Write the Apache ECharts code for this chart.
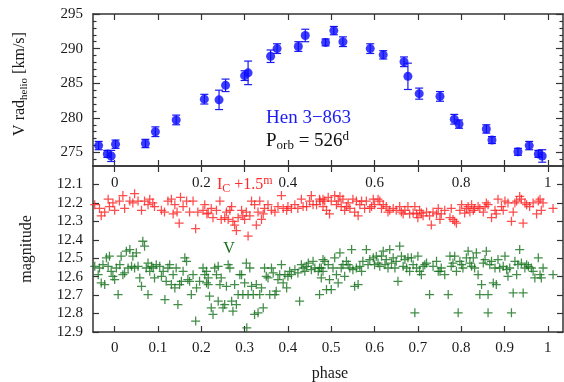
<!DOCTYPE html>
<html><head><meta charset="utf-8">
<script src="https://cdn.jsdelivr.net/npm/echarts@6/dist/echarts.min.js"></script>
<style>html,body{margin:0;padding:0;background:#fff}#c{width:564px;height:382px}</style>
</head><body><div id="c"></div>
<script>
// ---- Radial velocity panel ----
const rvPhase = [-0.037,-0.017,-0.008,0.002,0.071,0.094,0.142,0.207,0.241,0.256,0.300,0.308,0.360,0.375,0.424,0.440,0.487,0.506,0.527,0.590,0.620,0.668,0.677,0.703,0.751,0.784,0.795,0.858,0.871,0.931,0.957,0.978,0.987];
const rvValue = [276.0,274.8,274.5,276.2,276.3,278.0,279.7,282.7,282.6,284.7,286.1,286.5,288.9,290.0,290.3,291.9,290.9,292.6,291.0,290.0,289.1,288.1,286.0,283.5,283.1,279.8,279.1,278.4,276.8,275.1,276.0,274.8,274.5];
const rvError = [0.6,0.5,0.8,0.6,0.6,0.7,0.7,0.7,1.4,0.9,0.7,1.7,0.9,0.7,0.7,0.9,0.5,0.6,0.7,0.7,0.6,0.7,1.9,0.8,0.7,0.7,0.6,0.6,0.5,0.5,0.6,0.5,0.9];

// ---- Photometry panel: [phase, magnitude] ----
const icData = [
[-0.046,12.21],[-0.035,12.23],[-0.031,12.27],[-0.023,12.25],[-0.015,12.18],[-0.012,12.22],[-0.004,12.20],[0.000,12.24],[0.011,12.19],[0.019,12.16],[0.023,12.23],[0.035,12.19],[0.042,12.20],[0.046,12.15],[0.054,12.19],[0.062,12.24],[0.069,12.19],[0.077,12.21],[0.081,12.18],[0.088,12.20],[0.092,12.22],[0.108,12.24],[0.115,12.25],[0.123,12.19],[0.131,12.18],[0.135,12.26],[0.139,12.21],[0.144,12.25],[0.149,12.31],[0.152,12.17],[0.158,12.22],[0.166,12.19],[0.173,12.25],[0.181,12.19],[0.187,12.34],[0.192,12.25],[0.204,12.24],[0.213,12.26],
[0.208,12.21],[0.216,12.255],[0.223,12.23],[0.227,12.28],[0.235,12.24],[0.243,12.19],[0.246,12.29],[0.254,12.28],[0.258,12.25],[0.262,12.29],[0.266,12.24],[0.270,12.22],[0.273,12.30],[0.277,12.32],[0.281,12.35],[0.285,12.28],[0.293,12.24],[0.296,12.27],[0.300,12.29],[0.304,12.25],[0.308,12.38],[0.312,12.27],[0.316,12.19],[0.323,12.21],[0.327,12.32],[0.331,12.25],[0.335,12.19],[0.339,12.29],[0.343,12.26],[0.346,12.23],[0.354,12.21],[0.362,12.24],[0.370,12.25],[0.377,12.22],[0.385,12.16],[0.389,12.23],[0.397,12.24],[0.400,12.22],[0.408,12.23],[0.416,12.21],[0.423,12.23],[0.431,12.18],[0.435,12.22],[0.443,12.22],[0.450,12.19],[0.454,12.16],[0.458,12.21],[0.466,12.21],[0.474,12.19],[0.481,12.18],
[0.473,12.18],[0.481,12.22],[0.485,12.19],[0.489,12.24],[0.493,12.17],[0.496,12.26],[0.500,12.19],[0.508,12.16],[0.512,12.21],[0.516,12.19],[0.520,12.165],[0.523,12.22],[0.527,12.18],[0.531,12.24],[0.535,12.22],[0.539,12.20],[0.543,12.23],[0.550,12.18],[0.554,12.25],[0.558,12.19],[0.562,12.27],[0.566,12.21],[0.570,12.19],[0.577,12.23],[0.581,12.19],[0.589,12.23],[0.593,12.22],[0.597,12.18],[0.600,12.21],[0.608,12.18],[0.612,12.19],[0.616,12.23],[0.620,12.21],[0.627,12.22],[0.631,12.25],[0.635,12.24],[0.643,12.23],[0.650,12.24],[0.658,12.22],[0.662,12.25],[0.666,12.26],[0.670,12.24],[0.677,12.22],[0.681,12.26],[0.689,12.255],[0.693,12.22],[0.697,12.26],[0.700,12.28],[0.704,12.24],[0.708,12.255],[0.712,12.27],[0.720,12.25],[0.727,12.27],[0.731,12.32],[0.735,12.25],[0.743,12.26],[0.747,12.23],
[0.751,12.29],[0.754,12.26],[0.762,12.24],[0.774,12.28],[0.777,12.23],[0.781,12.29],[0.785,12.30],[0.789,12.31],[0.797,12.24],[0.801,12.21],[0.808,12.255],[0.812,12.23],[0.816,12.22],[0.820,12.25],[0.824,12.21],[0.828,12.24],[0.831,12.23],[0.839,12.22],[0.843,12.23],[0.851,12.25],[0.855,12.22],[0.858,12.20],[0.862,12.21],[0.870,12.28],[0.878,12.24],[0.881,12.26],[0.885,12.18],[0.893,12.22],[0.897,12.24],[0.901,12.19],[0.908,12.20],[0.916,12.30],[0.920,12.25],[0.924,12.20],[0.928,12.19],[0.935,12.165],[0.939,12.18],[0.943,12.31],[0.947,12.20],[0.951,12.21],[0.958,12.22],[0.966,12.20],[0.974,12.26],[0.978,12.19],[0.982,12.18],[0.985,12.24],[0.989,12.20],[1.012,12.23]
];
const vData = [
[-0.054,12.535],[-0.046,12.544],[-0.038,12.589],[-0.035,12.553],[-0.031,12.634],[-0.027,12.535],[-0.023,12.643],[-0.019,12.498],[-0.015,12.544],[-0.012,12.489],[-0.008,12.571],[-0.004,12.598],[0.000,12.616],[0.004,12.553],[0.008,12.697],[0.012,12.535],[0.015,12.489],[0.019,12.589],[0.023,12.58],[0.027,12.462],[0.031,12.553],[0.035,12.453],[0.039,12.544],[0.042,12.489],[0.046,12.553],[0.050,12.471],[0.054,12.544],[0.058,12.607],[0.062,12.652],[0.065,12.408],[0.069,12.435],[0.073,12.553],[0.077,12.526],[0.077,12.697],[0.081,12.571],[0.085,12.544],[0.089,12.553],[0.092,12.607],[0.096,12.535],[0.104,12.544],[0.108,12.598],[0.112,12.571],[0.116,12.724],[0.119,12.625],[0.123,12.553],[0.127,12.535],[0.131,12.643],[0.135,12.589],[0.139,12.661],[0.142,12.553],[0.146,12.751],[0.150,12.643],[0.154,12.625],[0.158,12.571],[0.162,12.498],[0.166,12.517],[0.169,12.616],[0.173,12.625],[0.177,12.697],[0.181,12.589],[0.187,12.841],[0.189,12.661],[0.196,12.625],[0.204,12.553],[0.212,12.571],[0.216,12.643],
[0.208,12.589],[0.212,12.634],[0.216,12.607],[0.219,12.706],[0.223,12.769],[0.227,12.805],[0.231,12.553],[0.235,12.589],[0.239,12.544],[0.239,12.733],[0.243,12.643],[0.246,12.607],[0.250,12.769],[0.254,12.751],[0.258,12.652],[0.262,12.535],[0.266,12.553],[0.270,12.733],[0.273,12.787],[0.277,12.643],[0.281,12.751],[0.285,12.697],[0.289,12.589],[0.293,12.589],[0.296,12.697],[0.300,12.634],[0.304,12.526],[0.305,12.877],[0.308,12.697],[0.312,12.553],[0.316,12.652],[0.320,12.697],[0.323,12.805],[0.327,12.643],[0.331,12.796],[0.335,12.697],[0.339,12.661],[0.343,12.769],[0.346,12.553],[0.350,12.598],[0.354,12.607],[0.358,12.697],[0.362,12.553],[0.366,12.58],[0.370,12.697],[0.373,12.679],[0.377,12.616],[0.381,12.589],[0.385,12.535],[0.389,12.634],[0.393,12.589],[0.397,12.661],[0.400,12.598],[0.404,12.571],[0.408,12.589],[0.416,12.562],[0.423,12.58],[0.427,12.733],[0.431,12.535],[0.435,12.553],[0.439,12.571],[0.443,12.544],[0.447,12.526],[0.454,12.562],[0.458,12.517],[0.462,12.553],[0.470,12.571],[0.473,12.697],[0.477,12.553],[0.481,12.507],
[0.473,12.553],[0.477,12.607],[0.481,12.571],[0.485,12.517],[0.489,12.670],[0.493,12.535],[0.496,12.616],[0.500,12.670],[0.504,12.553],[0.508,12.498],[0.512,12.589],[0.516,12.634],[0.520,12.471],[0.523,12.553],[0.527,12.535],[0.531,12.598],[0.535,12.517],[0.539,12.535],[0.543,12.553],[0.547,12.453],[0.550,12.562],[0.554,12.652],[0.558,12.553],[0.562,12.643],[0.566,12.544],[0.570,12.571],[0.573,12.517],[0.581,12.453],[0.585,12.535],[0.589,12.507],[0.597,12.498],[0.600,12.535],[0.604,12.489],[0.608,12.526],[0.612,12.544],[0.616,12.489],[0.620,12.462],[0.624,12.535],[0.627,12.507],[0.631,12.553],[0.635,12.453],[0.639,12.526],[0.643,12.498],[0.647,12.553],[0.650,12.517],[0.654,12.625],[0.658,12.435],[0.662,12.489],[0.666,12.544],[0.670,12.507],[0.674,12.553],[0.677,12.498],[0.681,12.571],[0.685,12.498],[0.689,12.535],[0.693,12.796],[0.697,12.553],[0.700,12.489],[0.704,12.571],[0.708,12.589],[0.712,12.544],[0.716,12.535],[0.720,12.526],[0.727,12.697],[0.735,12.544],[0.743,12.517],[0.747,12.571],
[0.751,12.571],[0.754,12.553],[0.762,12.589],[0.770,12.697],[0.774,12.489],[0.777,12.544],[0.781,12.526],[0.785,12.489],[0.789,12.571],[0.793,12.796],[0.797,12.517],[0.801,12.535],[0.804,12.553],[0.812,12.498],[0.816,12.462],[0.820,12.526],[0.824,12.544],[0.828,12.498],[0.831,12.553],[0.835,12.471],[0.839,12.589],[0.843,12.697],[0.847,12.643],[0.851,12.526],[0.855,12.507],[0.858,12.462],[0.862,12.697],[0.862,12.796],[0.866,12.535],[0.870,12.517],[0.874,12.634],[0.878,12.553],[0.881,12.643],[0.885,12.507],[0.889,12.553],[0.897,12.544],[0.901,12.489],[0.905,12.562],[0.908,12.598],[0.912,12.553],[0.916,12.796],[0.920,12.688],[0.924,12.517],[0.928,12.589],[0.931,12.535],[0.935,12.453],[0.939,12.526],[0.943,12.688],[0.947,12.553],[0.951,12.535],[0.955,12.544],[0.962,12.553],[0.966,12.571],[0.970,12.607],[0.978,12.498],[0.982,12.589],[0.985,12.607],[0.989,12.553],[1.012,12.589]
];

// ---- Tick definitions ----
const phaseTicks = [0,0.1,0.2,0.3,0.4,0.5,0.6,0.7,0.8,0.9,1];
const topPhaseLabels = [0,0.2,0.4,0.6,0.8,1];
const rvTicks = [275,280,285,290,295];
const rvMinorTicks = [274,276,277,278,279,281,282,283,284,286,287,288,289,291,292,293,294];
const magTicks = [12.1,12.2,12.3,12.4,12.5,12.6,12.7,12.8,12.9];

const FONT = 'Liberation Serif';
const AX = '#333';
const lineCfg = {show:true, onZero:false, lineStyle:{color:AX, width:1.5}};
const noLine = {show:false, onZero:false};
const fmt = v => String(parseFloat(Number(v).toFixed(2)));
function ticks(vals, len){ return {show:true, inside:true, length:len||6, customValues:vals, lineStyle:{color:AX, width:1.2}}; }
function labels(vals, margin){ return {show:true, customValues:vals, margin:margin, formatter:fmt, fontFamily:FONT, fontSize:15, color:'#1a1a1a'}; }

const xRange = {min:-0.05, max:1.035};
const rvRange = {min:273.05, max:295};
const magRange = {min:12.0, max:12.9};

const plusSym = 'path://M4.3,0H5.7V4.3H10V5.7H5.7V10H4.3V5.7H0V4.3H4.3Z';

const chart = echarts.init(document.getElementById('c'), null, {renderer:'canvas'});
chart.setOption({
  animation:false,
  backgroundColor:'#fff',
  grid:[
    {left:93, top:14, width:470, height:152},
    {left:93, top:166, width:470, height:166}
  ],
  xAxis:[
    Object.assign({type:'value', gridIndex:0, position:'bottom', axisLine:lineCfg, axisTick:ticks(phaseTicks), axisLabel:labels(topPhaseLabels,10), splitLine:{show:false}}, xRange),
    Object.assign({type:'value', gridIndex:0, position:'top', axisLine:lineCfg, axisTick:ticks(phaseTicks), axisLabel:{show:false}, splitLine:{show:false}}, xRange),
    Object.assign({type:'value', gridIndex:1, position:'bottom', axisLine:lineCfg, axisTick:ticks(phaseTicks), axisLabel:labels(phaseTicks,9), splitLine:{show:false}}, xRange),
    Object.assign({type:'value', gridIndex:1, position:'top', axisLine:lineCfg, axisTick:ticks(phaseTicks), axisLabel:{show:false}, splitLine:{show:false}}, xRange)
  ],
  yAxis:[
    Object.assign({type:'value', gridIndex:0, position:'left', axisLine:lineCfg, axisTick:ticks(rvTicks,7), axisLabel:labels(rvTicks,10), splitLine:{show:false}}, rvRange),
    Object.assign({type:'value', gridIndex:0, position:'right', axisLine:lineCfg, axisTick:ticks(rvTicks,7), axisLabel:{show:false}, splitLine:{show:false}}, rvRange),
    Object.assign({type:'value', gridIndex:0, position:'left', axisLine:noLine, axisTick:ticks(rvMinorTicks,3.5), axisLabel:{show:false}, splitLine:{show:false}}, rvRange),
    Object.assign({type:'value', gridIndex:0, position:'right', axisLine:noLine, axisTick:ticks(rvMinorTicks,3.5), axisLabel:{show:false}, splitLine:{show:false}}, rvRange),
    Object.assign({type:'value', gridIndex:1, position:'left', inverse:true, axisLine:lineCfg, axisTick:ticks(magTicks,6), axisLabel:Object.assign(labels(magTicks,10),{formatter:v=>Number(v).toFixed(1)}), splitLine:{show:false}}, magRange),
    Object.assign({type:'value', gridIndex:1, position:'right', inverse:true, axisLine:lineCfg, axisTick:ticks(magTicks,6), axisLabel:{show:false}, splitLine:{show:false}}, magRange)
  ],
  series:[
    {type:'custom', xAxisIndex:0, yAxisIndex:0, z:2,
     data: rvPhase.map((p,i)=>[p, rvValue[i]-rvError[i], rvValue[i]+rvError[i]]),
     renderItem:function(params, api){
       const lo = api.coord([api.value(0), api.value(1)]);
       const hi = api.coord([api.value(0), api.value(2)]);
       const w = 4, st = {stroke:'#1a1aee', lineWidth:1.2};
       return {type:'group', children:[
         {type:'line', shape:{x1:lo[0],y1:lo[1],x2:hi[0],y2:hi[1]}, style:st},
         {type:'line', shape:{x1:lo[0]-w,y1:lo[1],x2:lo[0]+w,y2:lo[1]}, style:st},
         {type:'line', shape:{x1:hi[0]-w,y1:hi[1],x2:hi[0]+w,y2:hi[1]}, style:st}
       ]};
     }},
    {type:'scatter', xAxisIndex:0, yAxisIndex:0, z:3, symbol:'circle', symbolSize:9,
     itemStyle:{color:'#0a0aff'}, data: rvPhase.map((p,i)=>[p, rvValue[i]])},
    {type:'scatter', xAxisIndex:2, yAxisIndex:4, symbol:plusSym, symbolSize:9,
     itemStyle:{color:'#ff1f1f'}, data: icData},
    {type:'scatter', xAxisIndex:2, yAxisIndex:4, symbol:plusSym, symbolSize:9,
     itemStyle:{color:'#13701a'}, data: vData}
  ],
  graphic:[
    {type:'text', x:20, y:84, rotation:Math.PI/2, style:{
      text:'{a|V rad}{s|helio}{a| [km/s]}', align:'center', verticalAlign:'middle',
      rich:{a:{fontFamily:FONT, fontSize:16, lineHeight:20, fill:'#1a1a1a', verticalAlign:'middle'},
            s:{fontFamily:FONT, fontSize:11, lineHeight:10, fill:'#1a1a1a', verticalAlign:'bottom'}}}},
    {type:'text', x:27, y:249, rotation:Math.PI/2, style:{text:'magnitude', align:'center', verticalAlign:'middle', fontFamily:FONT, fontSize:16, fill:'#1a1a1a'}},
    {type:'text', x:330, y:374, style:{text:'phase', align:'center', verticalAlign:'middle', fontFamily:FONT, fontSize:16, fill:'#1a1a1a'}},
    {type:'text', x:266, y:118, style:{text:'Hen 3\u2212863', align:'left', verticalAlign:'middle', fontFamily:FONT, fontSize:19, fill:'#1c1cf0'}},
    {type:'text', x:266, y:141, style:{
      text:'{a|P}{s|orb}{a| = 526}{p|d}', align:'left', verticalAlign:'middle',
      rich:{a:{fontFamily:FONT, fontSize:19, lineHeight:22, fill:'#111', verticalAlign:'middle'},
            s:{fontFamily:FONT, fontSize:13, lineHeight:10, fill:'#111', verticalAlign:'bottom'},
            p:{fontFamily:FONT, fontSize:13, lineHeight:10, fill:'#111', verticalAlign:'top'}}}},
    {type:'text', x:217, y:185, style:{
      text:'{a|I}{s|C}{a| +1.5}{p|m}', align:'left', verticalAlign:'middle',
      rich:{a:{fontFamily:FONT, fontSize:16, lineHeight:20, fill:'#ff2a2a', verticalAlign:'middle'},
            s:{fontFamily:FONT, fontSize:12, lineHeight:9, fill:'#ff2a2a', verticalAlign:'bottom'},
            p:{fontFamily:FONT, fontSize:12, lineHeight:9, fill:'#ff2a2a', verticalAlign:'top'}}}},
    {type:'text', x:229, y:249, style:{text:'V', align:'center', verticalAlign:'middle', fontFamily:FONT, fontSize:16, fill:'#1b6e1b'}}
  ]
});
</script>
</body></html>
